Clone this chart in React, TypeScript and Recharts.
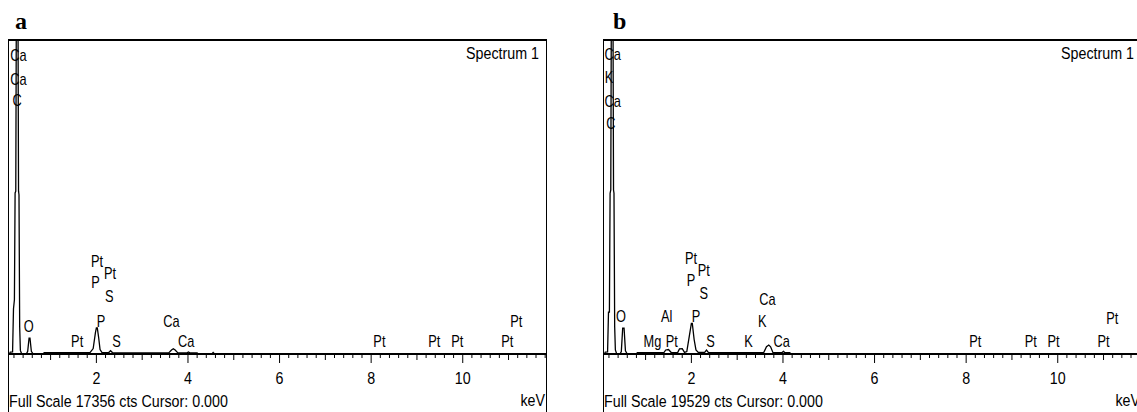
import React from 'react';
import { ComposedChart, Line, Scatter, XAxis, YAxis } from 'recharts';

// spectrum a (energy in keV, counts)
const keVA = [0.07, 0.1, 0.12, 0.17, 0.19, 0.21, 0.225, 0.24, 0.25, 0.29, 0.3, 0.31, 0.325, 0.34, 0.37,
  0.47, 0.5, 0.53, 0.55, 0.58, 0.62, 0.84, 0.86, 1.2, 1.5, 1.86, 1.93, 1.98, 2.0, 2.02, 2.05, 2.08, 2.12,
  2.27, 2.31, 2.35, 3.58, 3.64, 3.68, 3.72, 3.78, 3.98, 4.01, 4.04, 4.2, 4.22, 4.52, 4.55, 4.58, 11.84];
const ctsA = [0, 0, 110, 120, 2500, 3000, 8900, 9000, 17356, 17356, 9000, 8800, 1500, 200, 0,
  0, 150, 880, 880, 150, 0, 0, 70, 80, 70, 80, 300, 1200, 1440, 1440, 900, 250, 90,
  80, 180, 80, 60, 220, 290, 220, 60, 60, 110, 60, 60, 0, 0, 80, 0, 0];

// spectrum b
const keVB = [0.066, 0.1, 0.12, 0.17, 0.19, 0.21, 0.225, 0.24, 0.25, 0.29, 0.3, 0.31, 0.325, 0.34, 0.37,
  0.44, 0.47, 0.5, 0.53, 0.56, 0.6, 0.8, 0.82, 1.4, 1.44, 1.5, 1.56, 1.7, 1.74, 1.8, 1.85, 1.9, 1.96, 2.0,
  2.02, 2.06, 2.1, 2.15, 2.29, 2.33, 2.37, 3.58, 3.64, 3.69, 3.73, 3.78, 3.98, 4.01, 4.04, 4.15, 4.17, 11.84];
const ctsB = [0, 0, 120, 130, 2600, 2600, 10000, 10200, 19529, 19529, 10200, 10000, 1700, 250, 0,
  0, 150, 1600, 1600, 200, 0, 0, 80, 90, 250, 280, 90, 90, 320, 330, 100, 150, 1200, 1900,
  1900, 900, 250, 100, 100, 240, 100, 90, 450, 560, 450, 100, 90, 160, 90, 90, 0, 0];

const fullScaleA = 17356;
const fullScaleB = 19529;
const kevRange = [0.07, 11.84];
const tickLabels = [2, 4, 6, 8, 10];

// element markers: energy, count height, text
const markerA = [
  { e: 0.3, c: 16526, t: 'Ca' }, { e: 0.3, c: 15200, t: 'Ca' }, { e: 0.27, c: 14039, t: 'C' },
  { e: 0.52, c: 1548, t: 'O' }, { e: 1.58, c: 690, t: 'Pt' }, { e: 2.015, c: 5140, t: 'Pt' },
  { e: 2.3, c: 4477, t: 'Pt' }, { e: 1.98, c: 3980, t: 'P' }, { e: 2.28, c: 3206, t: 'S' },
  { e: 2.1, c: 1800, t: 'P' }, { e: 2.44, c: 690, t: 'S' }, { e: 3.64, c: 1800, t: 'Ca' },
  { e: 3.96, c: 690, t: 'Ca' }, { e: 8.18, c: 690, t: 'Pt' }, { e: 9.38, c: 690, t: 'Pt' },
  { e: 9.88, c: 690, t: 'Pt' }, { e: 10.97, c: 690, t: 'Pt' }, { e: 11.17, c: 1800, t: 'Pt' },
];
const markerB = [
  { e: 0.28, c: 18657, t: 'Ca' }, { e: 0.2, c: 17227, t: 'K' }, { e: 0.28, c: 15734, t: 'Ca' },
  { e: 0.24, c: 14366, t: 'C' }, { e: 0.46, c: 2363, t: 'O' }, { e: 1.99, c: 5970, t: 'Pt' },
  { e: 2.27, c: 5224, t: 'Pt' }, { e: 1.99, c: 4602, t: 'P' }, { e: 2.27, c: 3794, t: 'S' },
  { e: 1.46, c: 2363, t: 'Al' }, { e: 2.1, c: 2363, t: 'P' }, { e: 1.15, c: 808, t: 'Mg' },
  { e: 1.57, c: 808, t: 'Pt' }, { e: 2.42, c: 808, t: 'S' }, { e: 3.66, c: 3420, t: 'Ca' },
  { e: 3.55, c: 2052, t: 'K' }, { e: 3.25, c: 808, t: 'K' }, { e: 3.97, c: 808, t: 'Ca' },
  { e: 8.2, c: 808, t: 'Pt' }, { e: 9.41, c: 808, t: 'Pt' }, { e: 9.91, c: 808, t: 'Pt' },
  { e: 11.0, c: 808, t: 'Pt' }, { e: 11.19, c: 2239, t: 'Pt' },
];

const FONT = "'Liberation Sans', Arial, sans-serif";
const minorTicks = Array.from({ length: 59 }, (_, i) => Math.round((i + 1) * 2) / 10);

// condensed text, like the instrument's narrow screen font
function NarrowText({ x, y, size = 17, anchor = 'start', squeeze = 0.84, children }: any) {
  return (
    <g transform={`translate(${x},${y}) scale(${squeeze},1)`}>
      <text x={0} y={0} textAnchor={anchor} dominantBaseline="central" fontSize={size} fontFamily={FONT} fill="#000">
        {children}
      </text>
    </g>
  );
}

function KevTick({ x, y, payload }: any) {
  const v = payload.value;
  const whole = Math.abs(v - Math.round(v)) < 1e-6;
  const labelled = whole && tickLabels.includes(Math.round(v));
  const len = labelled ? 9 : whole ? 6 : 4;
  return (
    <g>
      <line x1={x} x2={x} y1={y} y2={y + len} stroke="#000" strokeWidth={1} />
      {labelled && (
        <NarrowText x={x} y={y + 24} anchor="middle">
          {Math.round(v)}
        </NarrowText>
      )}
    </g>
  );
}

function Marker(props: any) {
  const { cx, cy, payload } = props;
  return (
    <NarrowText x={cx} y={cy} size={16} anchor="middle" squeeze={0.8}>
      {payload.t}
    </NarrowText>
  );
}

function Panel({ left, title, titleX, keV, cts, markers, fullScale }: any) {
  const spectrum = keV.map((e: number, i: number) => ({ e, c: cts[i] }));
  return (
    <div style={{ position: 'absolute', left, top: 0, width: 560, height: 412 }}>
      <ComposedChart width={560} height={412} margin={{ top: 40, right: 13, left: 8, bottom: 28 }}>
        <XAxis
          dataKey="e"
          type="number"
          domain={kevRange}
          allowDataOverflow
          ticks={minorTicks}
          interval={0}
          height={30}
          tickSize={0}
          tickMargin={0}
          tickLine={false}
          tick={<KevTick />}
          axisLine={{ stroke: '#000', strokeWidth: 2 }}
        />
        <YAxis hide width={0} dataKey="c" type="number" domain={[0, fullScale]} allowDataOverflow />
        <Line data={spectrum} dataKey="c" type="linear" dot={false} stroke="#000" strokeWidth={1.3} isAnimationActive={false} />
        <Scatter data={markers} dataKey="c" shape={<Marker />} isAnimationActive={false} />
      </ComposedChart>
      <svg width={560} height={412} style={{ position: 'absolute', left: 0, top: 0, pointerEvents: 'none' }}>
        <line x1={8} x2={547} y1={40} y2={40} stroke="#000" strokeWidth={2} />
        <line x1={8.5} x2={8.5} y1={40} y2={412} stroke="#000" strokeWidth={1} />
        <line x1={546.5} x2={546.5} y1={40} y2={412} stroke="#000" strokeWidth={1} />
        <text x={titleX} y={29} fontSize={24} fontWeight="bold" fontFamily="'Liberation Serif', 'Times New Roman', serif">{title}</text>
        <NarrowText x={539} y={53} anchor="end">Spectrum 1</NarrowText>
        <NarrowText x={9} y={401}>Full Scale {fullScale} cts Cursor: 0.000</NarrowText>
        <NarrowText x={545} y={400} anchor="end">keV</NarrowText>
      </svg>
    </div>
  );
}

export default function App() {
  return (
    <div style={{ position: 'fixed', left: 0, top: 0, width: 1137, height: 412, overflow: 'hidden', background: '#fff' }}>
      <Panel left={0} title="a" titleX={15} keV={keVA} cts={ctsA} markers={markerA} fullScale={fullScaleA} />
      <Panel left={595} title="b" titleX={18} keV={keVB} cts={ctsB} markers={markerB} fullScale={fullScaleB} />
    </div>
  );
}
